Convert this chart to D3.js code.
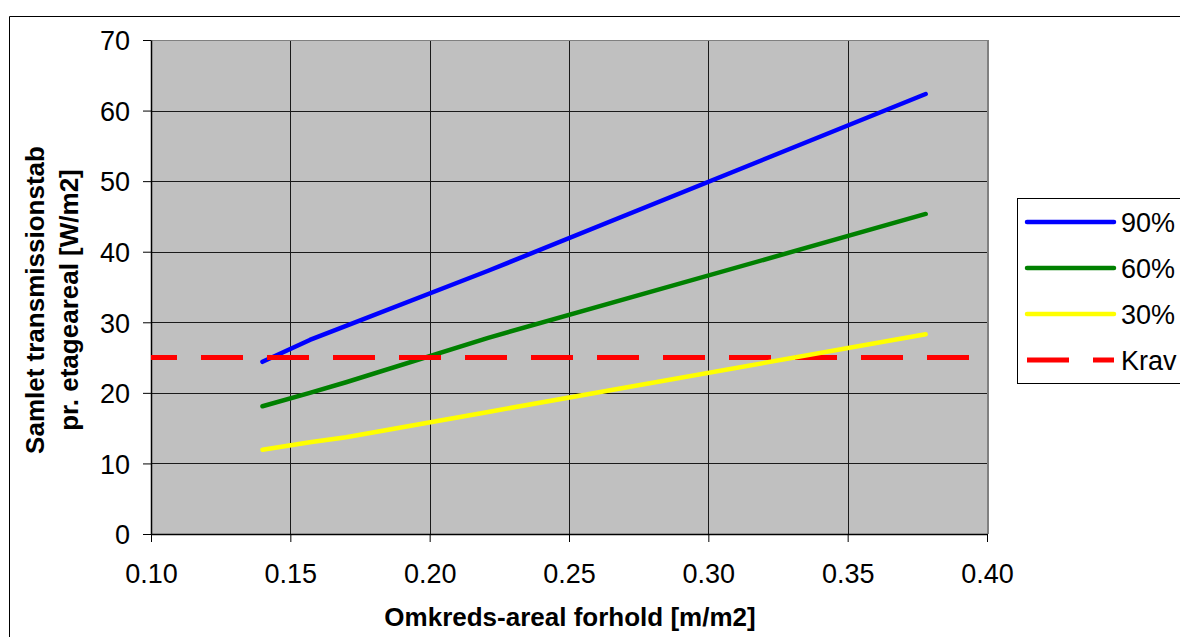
<!DOCTYPE html>
<html>
<head>
<meta charset="utf-8">
<script src="https://cdn.jsdelivr.net/npm/d3@7"></script>
<style>
  html, body { margin: 0; padding: 0; background: #ffffff; }
  svg { display: block; font-family: "Liberation Sans", Arial, sans-serif; }
</style>
</head>
<body>
<svg id="chart" width="1180" height="637"></svg>
<script>
// Omkreds-areal forhold (x) for the computed building cases
const ratios = [0.140, 0.157, 0.170, 0.221, 0.378];
// Samlet transmissionstab per vinduesandel
const tab90 = [24.4, 27.5, 29.5, 37.3, 62.35];
const tab60 = [18.1, 20.0, 21.5, 27.8, 45.35];
const tab30 = [11.95, 13.0, 13.7, 17.3, 28.3];
// Krav (requirement) across the full axis range
const kravX = [0.10, 0.40];
const kravY = [25, 25];

const seriesNames = ["90%", "60%", "30%", "Krav"];
const seriesColors = ["#0000ff", "#008000", "#ffff00", "#ff0000"];

const xTicks = [0.10, 0.15, 0.20, 0.25, 0.30, 0.35, 0.40];
const yTicks = [0, 10, 20, 30, 40, 50, 60, 70];

const svg = d3.select("#chart");

// outer chart frame (continues past the right and bottom edges)
svg.append("path")
  .attr("d", "M9.5,640 V16.5 H1190")
  .attr("fill", "none").attr("stroke", "#000").attr("stroke-width", 1);

const plot = { left: 151, right: 987, top: 40, bottom: 534 };

const x = d3.scaleLinear().domain([0.10, 0.40]).range([plot.left, plot.right]);
const y = d3.scaleLinear().domain([0, 70]).range([plot.bottom, plot.top]);

// plot background
svg.append("rect")
  .attr("x", plot.left).attr("y", plot.top)
  .attr("width", plot.right - plot.left).attr("height", plot.bottom - plot.top)
  .attr("fill", "#c0c0c0");

// gridlines
const grid = svg.append("g").attr("stroke", "#1a1a1a").attr("stroke-width", 1);
grid.selectAll("line.h").data(yTicks.filter(d => d > 0)).join("line")
  .attr("x1", plot.left).attr("x2", plot.right)
  .attr("y1", d => Math.round(y(d)) + 0.5).attr("y2", d => Math.round(y(d)) + 0.5);
grid.selectAll("line.v").data(xTicks.filter(d => d > 0.10 && d < 0.40)).join("line")
  .attr("y1", plot.top).attr("y2", plot.bottom)
  .attr("x1", d => Math.round(x(d)) + 0.5).attr("x2", d => Math.round(x(d)) + 0.5);

// plot border (right and top grey)
svg.append("line")
  .attr("x1", plot.right + 1).attr("x2", plot.right + 1)
  .attr("y1", plot.top).attr("y2", plot.bottom)
  .attr("stroke", "#808080").attr("stroke-width", 2);
svg.append("line")
  .attr("x1", plot.left).attr("x2", plot.right + 2)
  .attr("y1", plot.top + 0.5).attr("y2", plot.top + 0.5)
  .attr("stroke", "#808080").attr("stroke-width", 1);

// axes
const xAxis = d3.axisBottom(x).tickValues(xTicks).tickFormat(d3.format(".2f"))
  .tickSize(8).tickSizeOuter(0).tickPadding(22);
const yAxis = d3.axisLeft(y).tickValues(yTicks).tickFormat(d3.format("d"))
  .tickSize(8).tickSizeOuter(0).tickPadding(13);

const gx = svg.append("g").attr("transform", `translate(0,${plot.bottom})`).call(xAxis);
const gy = svg.append("g").attr("transform", `translate(${plot.left},0)`).call(yAxis);
[gx, gy].forEach(g => {
  g.select(".domain").attr("stroke", "#000").attr("stroke-width", 1.5);
  g.selectAll(".tick line").attr("stroke", "#000");
  g.selectAll(".tick text")
    .attr("fill", "#000")
    .style("font-family", '"Liberation Sans", Arial, sans-serif')
    .style("font-size", "27px");
});
gy.selectAll(".tick text").attr("dy", "0.36em");

// series lines
const line = d3.line().x(d => x(d[0])).y(d => y(d[1]));
const dataSeries = [tab90, tab60, tab30].map(vals => ratios.map((r, i) => [r, vals[i]]));
const kravData = kravX.map((r, i) => [r, kravY[i]]);

function drawSeries(i) {
  svg.append("path").datum(dataSeries[i])
    .attr("d", line).attr("fill", "none")
    .attr("stroke", seriesColors[i]).attr("stroke-width", 4.5)
    .attr("stroke-linecap", "round").attr("stroke-linejoin", "round");
}
drawSeries(0);
drawSeries(1);
svg.append("path").datum(kravData)
  .attr("d", line).attr("fill", "none")
  .attr("stroke", seriesColors[3]).attr("stroke-width", 5)
  .attr("stroke-dasharray", "42,24").attr("stroke-dashoffset", 16);
drawSeries(2);

// axis titles
svg.append("text")
  .attr("x", 570).attr("y", 626)
  .attr("text-anchor", "middle")
  .style("font-size", "26px").style("font-weight", "bold")
  .text("Omkreds-areal forhold [m/m2]");

const yt = svg.append("text")
  .attr("transform", "translate(0,300) rotate(-90)")
  .attr("text-anchor", "middle")
  .style("font-size", "26px").style("font-weight", "bold");
yt.append("tspan").attr("x", 0).attr("y", 44).text("Samlet transmissionstab");
yt.append("tspan").attr("x", 0).attr("y", 78).text("pr. etageareal [W/m2]");

// legend
const legend = svg.append("g");
legend.append("rect")
  .attr("x", 1017.5).attr("y", 198.5).attr("width", 200).attr("height", 185)
  .attr("fill", "#fff").attr("stroke", "#000").attr("stroke-width", 1);
seriesNames.forEach((name, i) => {
  const cy = 222 + i * 46;
  legend.append("line")
    .attr("x1", 1027).attr("x2", 1114).attr("y1", cy).attr("y2", cy)
    .attr("stroke", seriesColors[i]).attr("stroke-width", i === 3 ? 5 : 4.5)
    .attr("stroke-linecap", i === 3 ? "butt" : "round")
    .attr("stroke-dasharray", i === 3 ? "42,24" : null);
  legend.append("text")
    .attr("x", 1121).attr("y", cy).attr("dy", "0.36em")
    .style("font-size", "27px")
    .text(name);
});
</script>
</body>
</html>
